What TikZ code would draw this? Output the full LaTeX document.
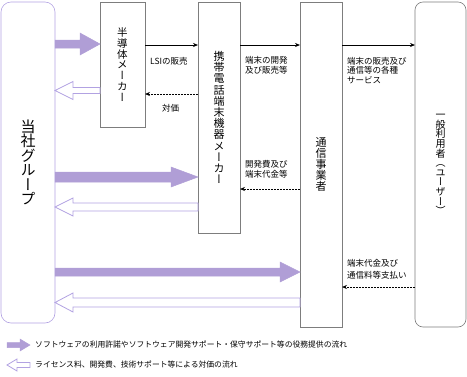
\documentclass[tikz,border=0pt]{standalone}
\usepackage{fontspec}
\setmainfont{Noto Sans CJK JP}
\newfontfamily\cjkv[RawFeature=+vert]{Noto Sans CJK JP}
\usetikzlibrary{calc,arrows.meta}
\definecolor{flowfill}{RGB}{176,158,214}
\definecolor{flowline}{RGB}{178,162,226}
\definecolor{boxline}{RGB}{125,125,125}
% wide flow arrow: style, from, to, shaft half width, head half width, head length
\newcommand{\flow}[6]{
\path[#1] let \p1=(#2), \p2=(#3), \n1={ifthenelse(\x2>\x1,1,-1)*#6} in
    (\x1,\y1-#4) -- (\x2-\n1,\y1-#4) -- (\x2-\n1,\y1-#5) -- (\x2,\y1)
    -- (\x2-\n1,\y1+#5) -- (\x2-\n1,\y1+#4) -- (\x1,\y1+#4) -- cycle;
}
\tikzset{
  box/.style={draw=boxline, line width=0.6pt, inner sep=0, outer sep=0, align=center,
    font=\cjkv\fontsize{11}{11.2}\selectfont},
  grpbox/.style={box, draw=flowline, rounded corners=10pt,
    font=\cjkv\fontsize{15}{14.5}\selectfont},
  userbox/.style={box, rounded corners=8pt},
  give/.style={fill=flowfill, draw=flowfill, line width=0.5pt},
  pay/.style={fill=white, draw=flowline, line width=0.8pt},
  sale/.style={-{Stealth[length=5pt,width=4pt]}, line width=0.7pt},
  cash/.style={sale, dash pattern=on 2pt off 1pt},
  note/.style={anchor=west, align=left, inner sep=0, font=\fontsize{8.5}{9.5}\selectfont},
  key/.style={anchor=west, inner sep=0, font=\fontsize{7.8}{9}\selectfont}
}
\begin{document}
\begin{tikzpicture}[x=1pt,y=-1pt]
\useasboundingbox (0,0) rectangle (467,376);
% boxes
\node[grpbox, minimum width=54pt, minimum height=321pt] (grp) at (28,162.5)
    {当\\社\\グ\\ル\\ー\\プ};
\node[box, minimum width=45pt, minimum height=125pt,
    font=\cjkv\fontsize{10.5}{10.7}\selectfont] (semi) at (122.5,64.5)
    {半\\導\\体\\メ\\ー\\カ\\ー};
\node[box, minimum width=42pt, minimum height=231pt] (maker) at (219,117.5)
    {携\\帯\\電\\話\\端\\末\\機\\器\\メ\\ー\\カ\\ー};
\node[box, minimum width=42pt, minimum height=325pt] (carrier) at (321,164.5)
    {通\\信\\事\\業\\者};
\node[userbox, minimum width=51pt, minimum height=325pt,
    font=\cjkv\fontsize{10}{9.6}\selectfont] (user) at (440.5,164.5)
    {一\\般\\利\\用\\者\\（\\ユ\\ー\\ザ\\ー\\）};
% flows from and to the group
\flow{give}{grp.east |- 0,44}{semi.west |- 0,44}{4pt}{11pt}{20pt}
\flow{pay}{semi.west |- 0,90.5}{grp.east |- 0,90.5}{3pt}{9pt}{18pt}
\flow{give}{grp.east |- 0,177}{maker.west |- 0,177}{5pt}{10pt}{27pt}
\flow{pay}{maker.west |- 0,207}{grp.east |- 0,207}{4pt}{9pt}{18pt}
\flow{give}{grp.east |- 0,272}{carrier.west |- 0,272}{4pt}{10pt}{20pt}
\flow{pay}{carrier.west |- 0,302.5}{grp.east |- 0,302.5}{4.5pt}{9.5pt}{18pt}
% goods and money
\draw[sale] (semi.east |- 0,45) -- (maker.west |- 0,45);
\draw[cash] (maker.west |- 0,94) -- (semi.east |- 0,94);
\draw[sale] (maker.east |- 0,45) -- (carrier.west |- 0,45);
\draw[cash] (carrier.west |- 0,189) -- (maker.east |- 0,189);
\draw[sale] (carrier.east |- 0,45) -- (user.west |- 0,45);
\draw[cash] (user.west |- 0,287) -- (carrier.east |- 0,287);
\node[note] (lsi) at (150,61) {LSIの販売};
\node[note] (price) at (162,108) {対価};
\node[note] (dev) at (245,65.5) {端末の開発\\及び販売等};
\node[note] (svc) at (347,70.5) {端末の販売及び\\通信等の各種\\サービス};
\node[note] (fee) at (245,169.5) {開発費及び\\端末代金等};
\node[note, font=\fontsize{8.5}{12}\selectfont] (bill) at (347,269)
    {端末代金及び\\通信料等支払い};
% legend
\coordinate (k1a) at (7,345);
\coordinate (k1b) at (30,345);
\coordinate (k2a) at (7,365);
\coordinate (k2b) at (30,365);
\flow{give}{k1a}{k1b}{2.5pt}{6pt}{10pt}
\flow{pay}{k2b}{k2a}{2.5pt}{6pt}{10pt}
\node[key] (k1) at (35,345) {ソフトウェアの利用許諾やソフトウェア開発サポート・保守サポート等の役務提供の流れ};
\node[key] (k2) at (35,365) {ライセンス料、開発費、技術サポート等による対価の流れ};
\end{tikzpicture}
\end{document}
